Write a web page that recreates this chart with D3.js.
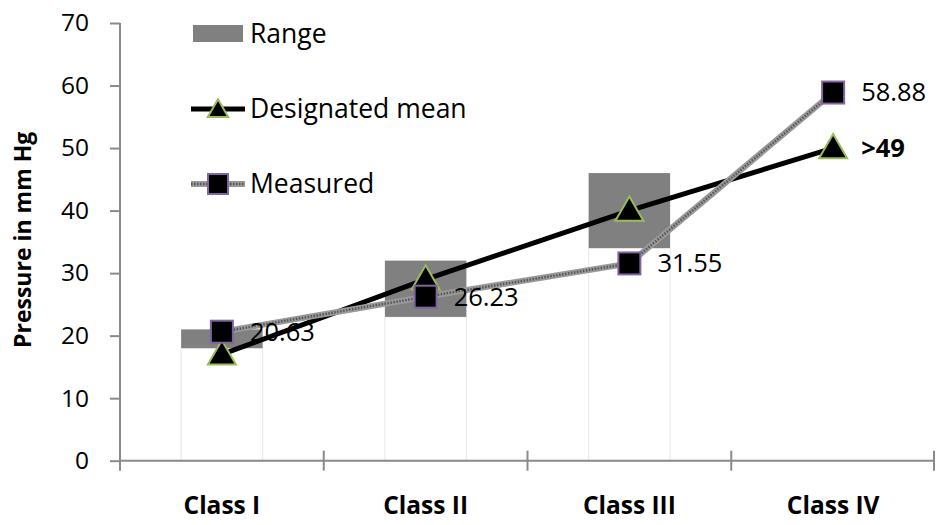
<!DOCTYPE html>
<html>
<head>
<meta charset="utf-8">
<script src="https://cdn.jsdelivr.net/npm/d3@7"></script>
<style>
  body { margin: 0; background: #fff; }
  svg { display: block; font-family: "Open Sans", sans-serif; }
</style>
</head>
<body>
<svg id="chart"></svg>
<script>
const categories = ["Class I", "Class II", "Class III", "Class IV"];
const rangeLow = [18, 23, 34, null];
const rangeHigh = [21, 32, 46, null];
const designatedMean = [17, 29, 40, 50];
const meanLabels = [null, null, null, ">49"];
const measured = [20.63, 26.23, 31.55, 58.88];
const yTicks = [0, 10, 20, 30, 40, 50, 60, 70];

const width = 936, height = 525;
const margin = { top: 23, right: 1, bottom: 64.3, left: 120 };
const axisColor = "#8a8a8a";

const svg = d3.select("#chart")
  .attr("width", width)
  .attr("height", height);

const x = d3.scaleBand()
  .domain(categories)
  .range([margin.left, width - margin.right])
  .padding(0);

const y = d3.scaleLinear()
  .domain([0, 70])
  .range([height - margin.bottom, margin.top]);

const barW = x.bandwidth() * 0.4;
const cx = d => x(d) + x.bandwidth() / 2;

// invisible base bars (only a faint outline shows)
svg.append("g")
  .selectAll("rect")
  .data(categories.filter((c, i) => rangeLow[i] != null))
  .join("rect")
  .attr("x", d => cx(d) - barW / 2)
  .attr("y", d => y(rangeLow[categories.indexOf(d)]))
  .attr("width", barW)
  .attr("height", d => y(0) - y(rangeLow[categories.indexOf(d)]))
  .attr("fill", "none")
  .attr("stroke", "#e8e8e8")
  .attr("stroke-width", 1);

// range bars
svg.append("g")
  .selectAll("rect")
  .data(categories.filter((c, i) => rangeLow[i] != null))
  .join("rect")
  .attr("x", d => cx(d) - barW / 2)
  .attr("y", d => y(rangeHigh[categories.indexOf(d)]))
  .attr("width", barW)
  .attr("height", d => {
    const i = categories.indexOf(d);
    return y(rangeLow[i]) - y(rangeHigh[i]);
  })
  .attr("fill", "#808080");

// y axis
const yAxis = d3.axisLeft(y).tickValues(yTicks).tickSize(10).tickPadding(21);
const yAxisGroup = svg.append("g")
  .attr("transform", `translate(${margin.left},0)`)
  .call(yAxis);
yAxisGroup.select(".domain").remove();
yAxisGroup.selectAll("line").attr("stroke", axisColor).attr("stroke-width", 2);
yAxisGroup.selectAll("text")
  .attr("font-size", 24.5)
  .attr("fill", "#000")
  .attr("font-family", "Open Sans");

svg.append("line")
  .attr("x1", margin.left).attr("x2", margin.left)
  .attr("y1", y(70)).attr("y2", y(0) + 10)
  .attr("stroke", axisColor).attr("stroke-width", 2);

// x axis
const xAxis = d3.axisBottom(x).tickSize(0).tickPadding(36);
const xAxisGroup = svg.append("g")
  .attr("transform", `translate(0,${y(0)})`)
  .call(xAxis);
xAxisGroup.select(".domain").remove();
xAxisGroup.selectAll("text")
  .attr("font-size", 24.5)
  .attr("font-weight", "bold")
  .attr("fill", "#000")
  .attr("font-family", "Open Sans");

svg.append("line")
  .attr("x1", x.range()[0]).attr("x2", x.range()[1])
  .attr("y1", y(0)).attr("y2", y(0))
  .attr("stroke", axisColor).attr("stroke-width", 2);

const bounds = categories.map(d => x(d)).concat([x.range()[1] - 1]);
svg.append("g")
  .selectAll("line")
  .data(bounds.slice(1))
  .join("line")
  .attr("x1", d => d).attr("x2", d => d)
  .attr("y1", y(0) - 10).attr("y2", y(0) + 10)
  .attr("stroke", axisColor).attr("stroke-width", 2);

// axis title
svg.append("text")
  .attr("transform", `translate(31,${(y(0) + y(70)) / 2 - 2}) rotate(-90)`)
  .attr("text-anchor", "middle")
  .attr("font-size", 23)
  .attr("font-weight", "bold")
  .text("Pressure in mm Hg");

// lines
const line = d3.line().x((d, i) => cx(categories[i])).y(d => y(d));

svg.append("path")
  .datum(designatedMean)
  .attr("d", line)
  .attr("fill", "none")
  .attr("stroke", "#000")
  .attr("stroke-width", 5);

const triangle = d3.symbol().type(d3.symbolTriangle);
svg.append("g")
  .selectAll("path")
  .data(designatedMean)
  .join("path")
  .attr("d", triangle.size(340))
  .attr("transform", (d, i) => `translate(${cx(categories[i])},${y(d) + 2})`)
  .attr("fill", "#000")
  .attr("stroke", "#9bbb59")
  .attr("stroke-width", 2);

const measuredPath = svg.append("g");
measuredPath.append("path")
  .datum(measured)
  .attr("d", line)
  .attr("fill", "none")
  .attr("stroke", "#9a9a9a")
  .attr("stroke-width", 6);
measuredPath.append("path")
  .datum(measured)
  .attr("d", line)
  .attr("fill", "none")
  .attr("stroke", "#555")
  .attr("stroke-width", 2.5)
  .attr("stroke-dasharray", "1.5,1.5");

svg.append("g")
  .selectAll("rect")
  .data(measured)
  .join("rect")
  .attr("x", (d, i) => cx(categories[i]) - 11)
  .attr("y", d => y(d) - 11)
  .attr("width", 22)
  .attr("height", 22)
  .attr("fill", "#000")
  .attr("stroke", "#8064a2")
  .attr("stroke-width", 2);

// data labels
svg.append("g")
  .selectAll("text")
  .data(measured)
  .join("text")
  .attr("x", (d, i) => cx(categories[i]) + 28)
  .attr("y", d => y(d))
  .attr("dy", "0.35em")
  .attr("font-size", 25.5)
  .text(d => d.toFixed(2));

svg.append("g")
  .selectAll("text")
  .data(designatedMean.map((v, i) => ({ v, label: meanLabels[i], cat: categories[i] })).filter(d => d.label))
  .join("text")
  .attr("x", d => cx(d.cat) + 28)
  .attr("y", d => y(d.v))
  .attr("dy", "0.35em")
  .attr("font-size", 25.5)
  .attr("font-weight", "bold")
  .text(d => d.label);

// legend
const legend = svg.append("g").attr("font-size", 26.5);

legend.append("rect")
  .attr("x", 193).attr("y", 25).attr("width", 50).attr("height", 17)
  .attr("fill", "#808080");
legend.append("text").attr("x", 250).attr("y", 34).attr("dy", "0.35em").text("Range");

legend.append("line")
  .attr("x1", 191).attr("x2", 245).attr("y1", 109).attr("y2", 109)
  .attr("stroke", "#000").attr("stroke-width", 5);
legend.append("path")
  .attr("d", d3.symbol().type(d3.symbolTriangle).size(180)())
  .attr("transform", "translate(218,111)")
  .attr("fill", "#000").attr("stroke", "#9bbb59").attr("stroke-width", 2);
legend.append("text").attr("x", 250).attr("y", 109).attr("dy", "0.35em").text("Designated mean");

legend.append("line")
  .attr("x1", 191).attr("x2", 245).attr("y1", 184).attr("y2", 184)
  .attr("stroke", "#9a9a9a").attr("stroke-width", 6);
legend.append("line")
  .attr("x1", 191).attr("x2", 245).attr("y1", 184).attr("y2", 184)
  .attr("stroke", "#555").attr("stroke-width", 2.5).attr("stroke-dasharray", "1.5,1.5");
legend.append("rect")
  .attr("x", 208).attr("y", 174).attr("width", 20).attr("height", 20)
  .attr("fill", "#000").attr("stroke", "#8064a2").attr("stroke-width", 2);
legend.append("text").attr("x", 250).attr("y", 184).attr("dy", "0.35em").text("Measured");
</script>
</body>
</html>
